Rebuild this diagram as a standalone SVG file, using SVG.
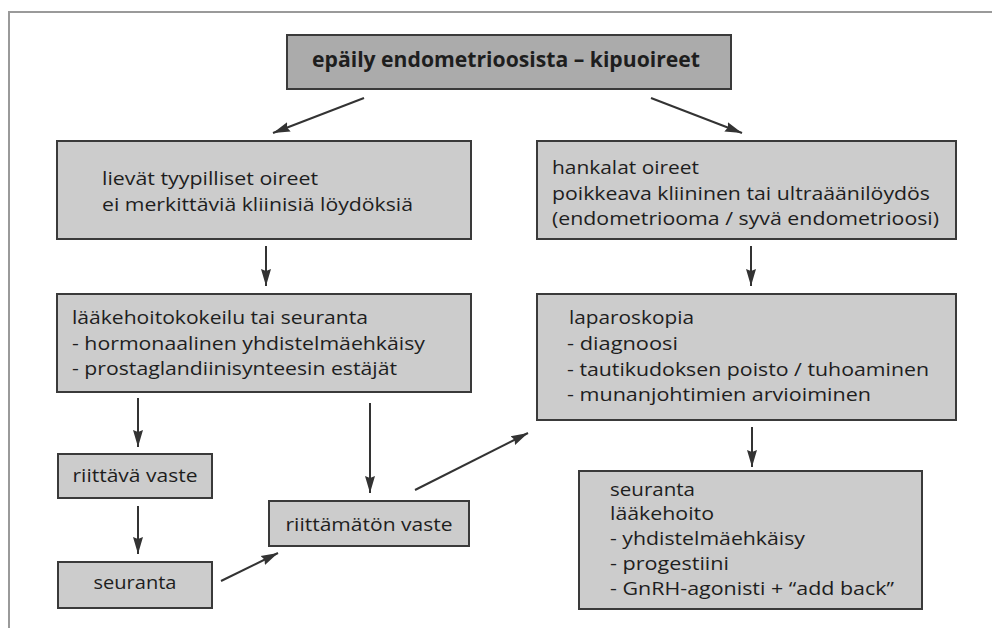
<svg xmlns="http://www.w3.org/2000/svg" width="992" height="628" viewBox="0 0 992 628">
<defs>
<style>
.frame{fill:none;stroke:#9a9a9a;stroke-width:2}
.box{fill:#cccccc;stroke:#3a3a3a;stroke-width:2}
.head{fill:#ababab;stroke:#3a3a3a;stroke-width:2}
text{font-family:"Open Sans","Liberation Sans",sans-serif;font-size:17.5px;fill:#1e1e1e}
.b{font-weight:bold;font-size:21px}
.c{text-anchor:middle}
.arr{stroke:#333;stroke-width:2;fill:none;marker-end:url(#ah)}
</style>
<marker id="ah" markerUnits="userSpaceOnUse" markerWidth="18" markerHeight="12" viewBox="0 0 18 12" refX="17" refY="6" orient="auto">
<path d="M0,1 L17,6 L0,11 L2,6 Z" fill="#333"/>
</marker>
</defs>
<rect width="992" height="628" fill="#fff"/>
<path class="frame" d="M9,628 V12 H992"/>

<g id="n-start">
<rect class="head" x="287" y="35" width="444" height="54"/>
<text class="b" x="312" y="67" textLength="388" lengthAdjust="spacingAndGlyphs">epäily endometrioosista – kipuoireet</text>
</g>

<g id="n-mild">
<rect class="box" x="57" y="141" width="414" height="98"/>
<text x="102" y="185" textLength="216" lengthAdjust="spacingAndGlyphs">lievät tyypilliset oireet</text>
<text x="102" y="211" textLength="311" lengthAdjust="spacingAndGlyphs">ei merkittäviä kliinisiä löydöksiä</text>
</g>

<g id="n-severe">
<rect class="box" x="537" y="141" width="419" height="98"/>
<text x="552" y="174" textLength="147" lengthAdjust="spacingAndGlyphs">hankalat oireet</text>
<text x="552" y="200" textLength="378" lengthAdjust="spacingAndGlyphs">poikkeava kliininen tai ultraäänilöydös</text>
<text x="552" y="225" textLength="387" lengthAdjust="spacingAndGlyphs">(endometriooma / syvä endometrioosi)</text>
</g>

<g id="n-medication">
<rect class="box" x="57" y="294" width="414" height="98"/>
<text x="72" y="324" textLength="296" lengthAdjust="spacingAndGlyphs">lääkehoitokokeilu tai seuranta</text>
<text x="72" y="350" textLength="353" lengthAdjust="spacingAndGlyphs">- hormonaalinen yhdistelmäehkäisy</text>
<text x="72" y="375" textLength="325" lengthAdjust="spacingAndGlyphs">- prostaglandiinisynteesin estäjät</text>
</g>

<g id="n-laparoscopy">
<rect class="box" x="537" y="294" width="419" height="126"/>
<text x="569" y="324" textLength="125" lengthAdjust="spacingAndGlyphs">laparoskopia</text>
<text x="567" y="350" textLength="111" lengthAdjust="spacingAndGlyphs">- diagnoosi</text>
<text x="567" y="375.5" textLength="362" lengthAdjust="spacingAndGlyphs">- tautikudoksen poisto / tuhoaminen</text>
<text x="567" y="401" textLength="304" lengthAdjust="spacingAndGlyphs">- munanjohtimien arvioiminen</text>
</g>

<g id="n-adequate">
<rect class="box" x="58" y="454" width="154" height="44"/>
<text class="c" x="135" y="482" textLength="125" lengthAdjust="spacingAndGlyphs">riittävä vaste</text>
</g>

<g id="n-followup">
<rect class="box" x="58" y="562" width="154" height="46"/>
<text class="c" x="135" y="589" textLength="83" lengthAdjust="spacingAndGlyphs">seuranta</text>
</g>

<g id="n-inadequate">
<rect class="box" x="269" y="501" width="200" height="45"/>
<text class="c" x="369" y="531" textLength="167" lengthAdjust="spacingAndGlyphs">riittämätön vaste</text>
</g>

<g id="n-aftercare">
<rect class="box" x="579" y="471" width="343" height="138"/>
<text x="610" y="495.5" textLength="85" lengthAdjust="spacingAndGlyphs">seuranta</text>
<text x="610" y="519.5" textLength="104" lengthAdjust="spacingAndGlyphs">lääkehoito</text>
<text x="610" y="545" textLength="195" lengthAdjust="spacingAndGlyphs">- yhdistelmäehkäisy</text>
<text x="610" y="570" textLength="119" lengthAdjust="spacingAndGlyphs">- progestiini</text>
<text x="610" y="594.5" textLength="284" lengthAdjust="spacingAndGlyphs">- GnRH-agonisti + “add back”</text>
</g>

<g id="connectors">
<line class="arr" x1="364" y1="98" x2="273" y2="133"/>
<line class="arr" x1="651" y1="98" x2="742" y2="133"/>
<line class="arr" x1="266" y1="246" x2="266" y2="286"/>
<line class="arr" x1="751" y1="246" x2="751" y2="286"/>
<line class="arr" x1="138" y1="398" x2="138" y2="447"/>
<line class="arr" x1="370" y1="403" x2="370" y2="493"/>
<line class="arr" x1="138" y1="506" x2="138" y2="554"/>
<line class="arr" x1="221" y1="581" x2="278" y2="553"/>
<line class="arr" x1="415" y1="490" x2="528" y2="433"/>
<line class="arr" x1="752" y1="427" x2="752" y2="467"/>
</g>
</svg>
